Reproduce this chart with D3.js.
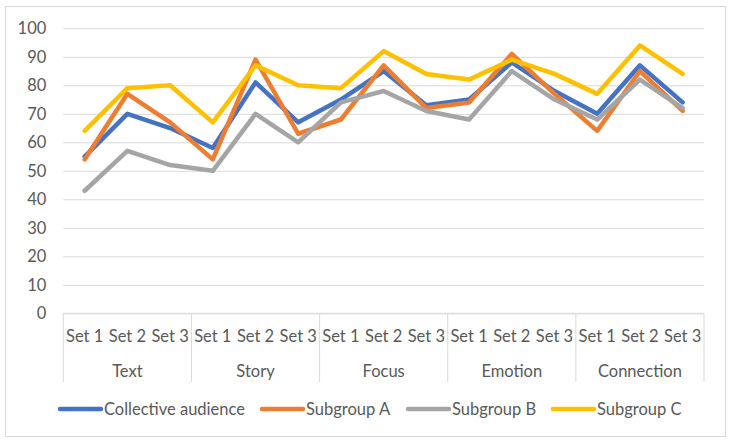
<!DOCTYPE html>
<html>
<head>
<meta charset="utf-8">
<script src="https://cdn.jsdelivr.net/npm/d3@7"></script>
<style>
  body { margin: 0; background: #fff; }
  svg text { font-family: Lato, "Open Sans", sans-serif; fill: #595959; }
</style>
</head>
<body>
<script>
// chart data
var categories = ["Text", "Story", "Focus", "Emotion", "Connection"];
var sets = ["Set 1", "Set 2", "Set 3"];
var seriesNames = ["Collective audience", "Subgroup A", "Subgroup B", "Subgroup C"];
var collective = [55, 70, 65, 58, 81, 67, 75, 85, 73, 75, 88, 78, 70, 87, 74];
var subgroupA  = [54, 77, 67, 54, 89, 63, 68, 87, 72, 74, 91, 77, 64, 85, 71];
var subgroupB  = [43, 57, 52, 50, 70, 60, 74, 78, 71, 68, 85, 75, 68, 82, 72];
var subgroupC  = [64, 79, 80, 67, 87, 80, 79, 92, 84, 82, 89, 84, 77, 94, 84];
var yTicks = [0, 10, 20, 30, 40, 50, 60, 70, 80, 90, 100];
var colors = ["#4472C4", "#ED7D31", "#A5A5A5", "#FFC000"];

var width = 730, height = 440;
var plot = {left: 63.3, right: 704, top: 28.3, bottom: 313.3};
var fontSize = "16.5px";

var svg = d3.select("body").append("svg")
    .attr("width", width)
    .attr("height", height);

// outer chart border
svg.append("rect")
    .attr("x", 5.5).attr("y", 6.5)
    .attr("width", 720).attr("height", 430)
    .attr("fill", "#fff")
    .attr("stroke", "#D9D9D9");

var x0 = d3.scaleBand().domain(categories).range([plot.left, plot.right]);
var x1 = d3.scaleBand().domain(sets).range([0, x0.bandwidth()]);
var y = d3.scaleLinear().domain([0, 100]).range([plot.bottom, plot.top]);

// flat list of points: one per (category, set)
var points = [];
categories.forEach(function(c) {
  sets.forEach(function(s) { points.push({cat: c, set: s}); });
});
function px(i) {
  var p = points[i];
  return x0(p.cat) + x1(p.set) + x1.bandwidth() / 2;
}

// gridlines + y labels
var yAxis = d3.axisLeft(y)
    .tickValues(yTicks)
    .tickSize(-(plot.right - plot.left))
    .tickPadding(17);
var gy = svg.append("g")
    .attr("transform", "translate(" + plot.left + ",0)")
    .call(yAxis);
gy.select(".domain").remove();
gy.selectAll(".tick line").attr("stroke", "#D9D9D9").attr("stroke-width", 1);
gy.selectAll(".tick text").style("font-size", fontSize);

// category axis box
var boxBottom = 382;
svg.append("line")
    .attr("x1", plot.left).attr("x2", plot.right)
    .attr("y1", plot.bottom).attr("y2", plot.bottom)
    .attr("stroke", "#D9D9D9");
var bounds = categories.map(function(c) { return x0(c); }).concat([plot.right]);
svg.selectAll(".catline").data(bounds).enter().append("line")
    .attr("x1", function(d) { return d; }).attr("x2", function(d) { return d; })
    .attr("y1", plot.bottom).attr("y2", boxBottom)
    .attr("stroke", "#D9D9D9");

svg.selectAll(".setlabel").data(points).enter().append("text")
    .attr("x", function(d, i) { return px(i); })
    .attr("y", 342)
    .attr("text-anchor", "middle")
    .style("font-size", fontSize)
    .text(function(d) { return d.set; });

svg.selectAll(".catlabel").data(categories).enter().append("text")
    .attr("x", function(d) { return x0(d) + x0.bandwidth() / 2; })
    .attr("y", 377)
    .attr("text-anchor", "middle")
    .style("font-size", fontSize)
    .text(function(d) { return d; });

// series lines
var allSeries = [collective, subgroupA, subgroupB, subgroupC];
var line = d3.line()
    .x(function(d, i) { return px(i); })
    .y(function(d) { return y(d); });

svg.selectAll(".series").data(allSeries).enter().append("path")
    .attr("d", line)
    .attr("fill", "none")
    .attr("stroke", function(d, i) { return colors[i]; })
    .attr("stroke-width", 4.5)
    .attr("stroke-linejoin", "round")
    .attr("stroke-linecap", "round");

// legend
var legendX = [60, 262, 408, 553];
var lg = svg.selectAll(".legend").data(seriesNames).enter().append("g")
    .attr("transform", function(d, i) { return "translate(" + legendX[i] + ",409)"; });
lg.append("line")
    .attr("x1", 0).attr("x2", 41)
    .attr("stroke", function(d, i) { return colors[i]; })
    .attr("stroke-width", 4.5)
    .attr("stroke-linecap", "round");
lg.append("text")
    .attr("x", 44)
    .attr("y", 6)
    .style("font-size", fontSize)
    .text(function(d) { return d; });
</script>
</body>
</html>
